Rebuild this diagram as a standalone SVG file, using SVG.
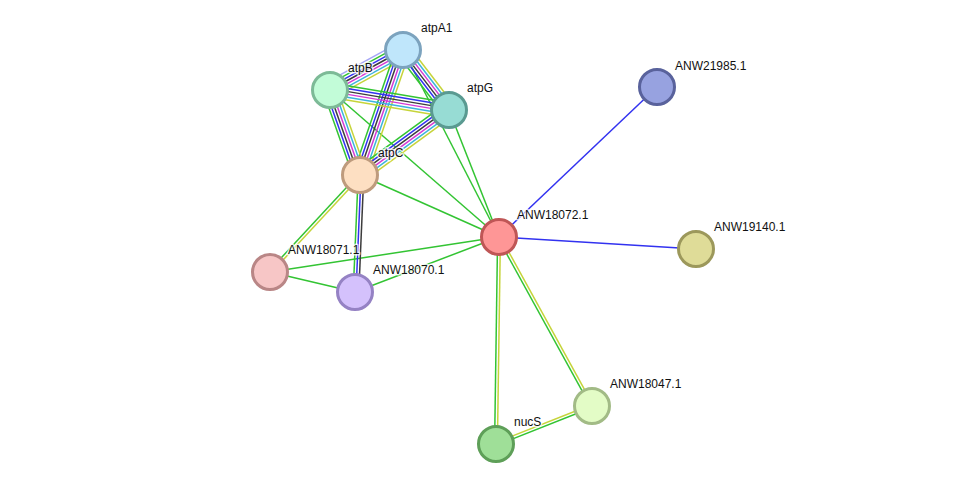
<svg xmlns="http://www.w3.org/2000/svg" xmlns:xlink="http://www.w3.org/1999/xlink" width="975" height="489" viewBox="0 0 975 489">
<style>
.g{stroke:#33c433}.y{stroke:#c6d43a}.b{stroke:#3232f0}.k{stroke:#3c3c3c}.m{stroke:#d43ad4}.c{stroke:#3cb4dc}.l{stroke:#a6a6f6}
.bl line{stroke-width:1.5;fill:none}
.e{stroke-width:1.5;fill:none}
.n circle{stroke-width:3}
.n text{font-family:"Liberation Sans",Arial,sans-serif;font-size:12px;fill:#111;stroke:#fff;stroke-width:3;stroke-opacity:0.75;paint-order:stroke;stroke-linejoin:round}
</style>
<defs>
<g id="b7" class="bl">
<line class="l" x1="0" y1="-8.4" x2="1" y2="-8.4"/>
<line class="g" x1="0" y1="-5.6" x2="1" y2="-5.6"/>
<line class="b" x1="0" y1="-2.8" x2="1" y2="-2.8"/>
<line class="k" x1="0" y1="0" x2="1" y2="0"/>
<line class="m" x1="0" y1="2.8" x2="1" y2="2.8"/>
<line class="c" x1="0" y1="5.6" x2="1" y2="5.6"/>
<line class="y" x1="0" y1="8.4" x2="1" y2="8.4"/>
</g>
<g id="b6" class="bl">
<line class="g" x1="0" y1="-7" x2="1" y2="-7"/>
<line class="b" x1="0" y1="-4.2" x2="1" y2="-4.2"/>
<line class="k" x1="0" y1="-1.4" x2="1" y2="-1.4"/>
<line class="m" x1="0" y1="1.4" x2="1" y2="1.4"/>
<line class="c" x1="0" y1="4.2" x2="1" y2="4.2"/>
<line class="y" x1="0" y1="7" x2="1" y2="7"/>
</g>
<g id="b3" class="bl">
<line class="g" x1="0" y1="-2.8" x2="1" y2="-2.8"/>
<line class="b" x1="0" y1="0" x2="1" y2="0"/>
<line class="k" x1="0" y1="2.8" x2="1" y2="2.8"/>
</g>
<g id="b2" class="bl">
<line class="g" x1="0" y1="-1.4" x2="1" y2="-1.4"/>
<line class="y" x1="0" y1="1.4" x2="1" y2="1.4"/>
</g>
</defs>
<rect width="975" height="489" fill="#fff"/>
<g id="edges">
<line class="e g" x1="330" y1="90" x2="499" y2="237"/>
<line class="e g" x1="403" y1="50" x2="499" y2="237"/>
<line class="e g" x1="449" y1="110" x2="499" y2="237"/>
<line class="e g" x1="360" y1="175" x2="499" y2="237"/>
<line class="e g" x1="270" y1="272" x2="499" y2="237"/>
<line class="e g" x1="270" y1="272" x2="355" y2="292"/>
<line class="e g" x1="355" y1="292" x2="499" y2="237"/>
<line class="e b" x1="499" y1="237" x2="657" y2="87"/>
<line class="e b" x1="499" y1="237" x2="696" y2="249"/>
<use xlink:href="#b7" transform="translate(330,90) rotate(-28.72) scale(83.24,1)"/>
<use xlink:href="#b6" transform="translate(449,110) rotate(-127.48) scale(75.6,1)"/>
<use xlink:href="#b6" transform="translate(360,175) rotate(-71.02) scale(132.2,1)"/>
<use xlink:href="#b6" transform="translate(330,90) rotate(9.54) scale(120.67,1)"/>
<use xlink:href="#b6" transform="translate(360,175) rotate(-109.44) scale(90.14,1)"/>
<use xlink:href="#b6" transform="translate(360,175) rotate(-36.14) scale(110.2,1)"/>
<use xlink:href="#b3" transform="translate(356,292) rotate(-87.55) scale(117.1,1)"/>
<use xlink:href="#b2" transform="translate(270,272) rotate(-47.14) scale(132.3,1)"/>
<use xlink:href="#b2" transform="translate(496,444) rotate(-89.17) scale(207.02,1)"/>
<use xlink:href="#b2" transform="translate(592,406) rotate(-118.83) scale(192.9,1)"/>
<use xlink:href="#b2" transform="translate(592,406) rotate(158.41) scale(103.25,1)"/>
</g>
<g id="atpA1" class="n"><circle cx="403" cy="50" r="17.5" fill="#bfe6fb" stroke="#7ca3be"/><text x="421" y="32">atpA1</text></g>
<g id="atpB" class="n"><circle cx="330" cy="90" r="17.5" fill="#c2fcd8" stroke="#7dba97"/><text x="348" y="72">atpB</text></g>
<g id="atpG" class="n"><circle cx="449" cy="110" r="17.5" fill="#97dcd4" stroke="#5a9a91"/><text x="467" y="92">atpG</text></g>
<g id="atpC" class="n"><circle cx="360" cy="175" r="17.5" fill="#fddfc2" stroke="#be9b7d"/><text x="378" y="157">atpC</text></g>
<g id="ANW18072.1" class="n"><circle cx="499" cy="237" r="17.5" fill="#fe9696" stroke="#bf5656"/><text x="517" y="219">ANW18072.1</text></g>
<g id="ANW21985.1" class="n"><circle cx="657" cy="87" r="17.5" fill="#97a2e0" stroke="#59629c"/><text x="675" y="70">ANW21985.1</text></g>
<g id="ANW19140.1" class="n"><circle cx="696" cy="249" r="17.5" fill="#dfdc98" stroke="#9c985b"/><text x="714" y="231">ANW19140.1</text></g>
<g id="ANW18071.1" class="n"><circle cx="270" cy="272" r="17.5" fill="#f7c6c6" stroke="#b98686"/><text x="288" y="254">ANW18071.1</text></g>
<g id="ANW18070.1" class="n"><circle cx="355" cy="292" r="17.5" fill="#d4c1fc" stroke="#9582c4"/><text x="373" y="274">ANW18070.1</text></g>
<g id="ANW18047.1" class="n"><circle cx="592" cy="406" r="17.5" fill="#e3fcc6" stroke="#a2bb86"/><text x="610" y="388">ANW18047.1</text></g>
<g id="nucS" class="n"><circle cx="496" cy="444" r="17.5" fill="#9fdf98" stroke="#5e9f58"/><text x="514" y="426">nucS</text></g>
</svg>
